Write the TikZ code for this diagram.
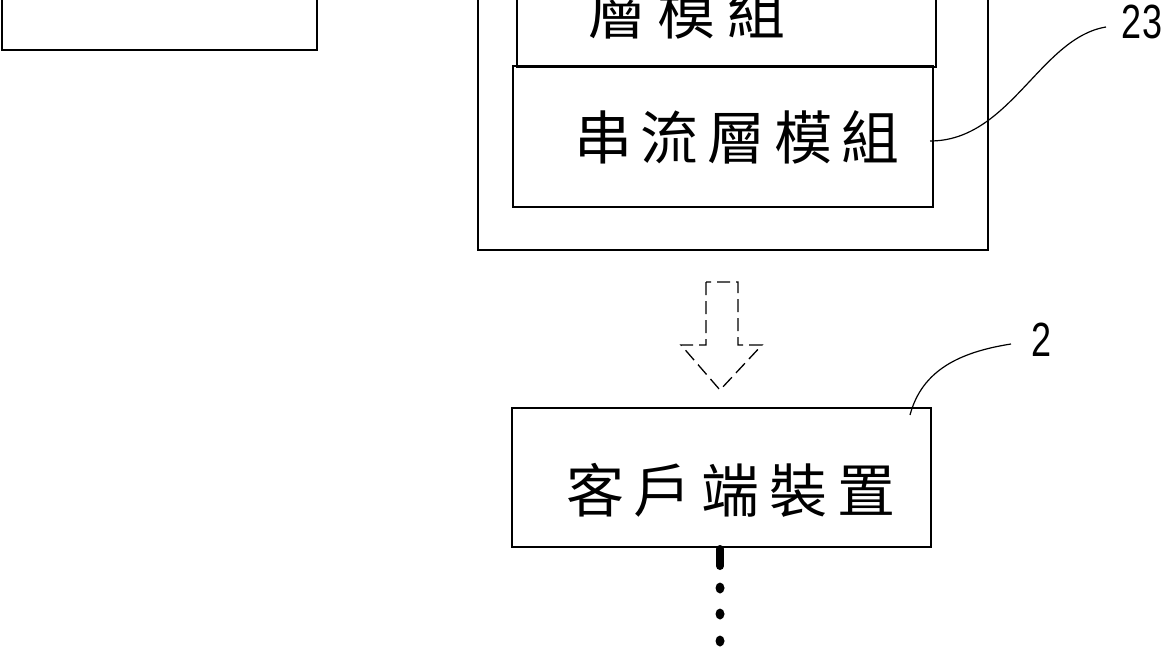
\documentclass[tikz,border=0pt]{standalone}
\usepackage{fontspec}
\newfontfamily\cjk{Noto Sans CJK TC}
\setmainfont{Liberation Sans}
\begin{document}
\begin{tikzpicture}[x=1pt,y=-1pt,
  box/.style={draw=black,line width=2pt,inner sep=0pt},
  outerbox/.style={draw=black,line width=1.6pt,inner sep=0pt},
  cjktext/.style={font=\cjk\fontsize{58}{62}\selectfont,inner sep=0pt},
  numtext/.style={font=\fontsize{48}{50}\selectfont,xscale=0.75,inner sep=0pt},
  leader/.style={line width=1.2pt},
  hollowarrow/.style={line width=1.3pt,dash pattern=on 13pt off 6pt},
  dotmark/.style={fill=black,draw=none}]
\useasboundingbox (0,0) rectangle (1170,650);
\clip (0,0) rectangle (1170,650);
% left box (mostly off-picture)
\node[box,minimum width=315pt,minimum height=150pt] (left) at (159.5,-25) {};
% outer box
\node[outerbox,minimum width=510pt,minimum height=400pt] (outer) at (733,50) {};
% upper module box
\node[box,minimum width=419pt,minimum height=217pt] (upper) at (726.5,-41.5) {};
\node[cjktext] (uppertext) at (687,12) {層\hspace{12pt}模\hspace{12pt}組};
% lower module box
\node[box,minimum width=420pt,minimum height=141pt] (lower) at (723,136.5) {};
\node[cjktext] (lowertext) at (737,137) {串\hspace{9pt}流\hspace{9pt}層\hspace{9pt}模\hspace{9pt}組};
% label 23
\node[numtext] (n23) at (1142,22) {23};
\coordinate (l23a) at (930,141);
\coordinate (l23b) at (1106,27);
\draw[leader] (l23a) .. controls (1010,141) and (1040,38) .. (l23b);
% dashed hollow arrow
\coordinate (arrtip) at (720,390);
\draw[hollowarrow] (706,282) -- (706,345) -- (681,345) -- (arrtip) -- (762,345) -- (738,345) -- (738,282) -- cycle;
% client box
\node[box,minimum width=419pt,minimum height=139pt] (client) at (721.5,477.5) {};
\node[cjktext] (clienttext) at (731,490) {客\hspace{10pt}戶\hspace{10pt}端\hspace{10pt}裝\hspace{10pt}置};
% label 2
\node[numtext] (n2) at (1041,340) {2};
\coordinate (l2a) at (910,415);
\coordinate (l2b) at (1011,344);
\draw[leader] (l2a) .. controls (922,370) and (960,352) .. (l2b);
% dots
\coordinate (dbar1) at (720,549);
\coordinate (dbar2) at (720,566);
\draw[line width=8pt,line cap=round] (dbar1) -- (dbar2);
\fill[dotmark] (720,588) ellipse (4.5pt and 5.5pt);
\fill[dotmark] (720,614) ellipse (4.5pt and 5.5pt);
\fill[dotmark] (720,641) ellipse (4.5pt and 5.5pt);
\end{tikzpicture}
\end{document}
